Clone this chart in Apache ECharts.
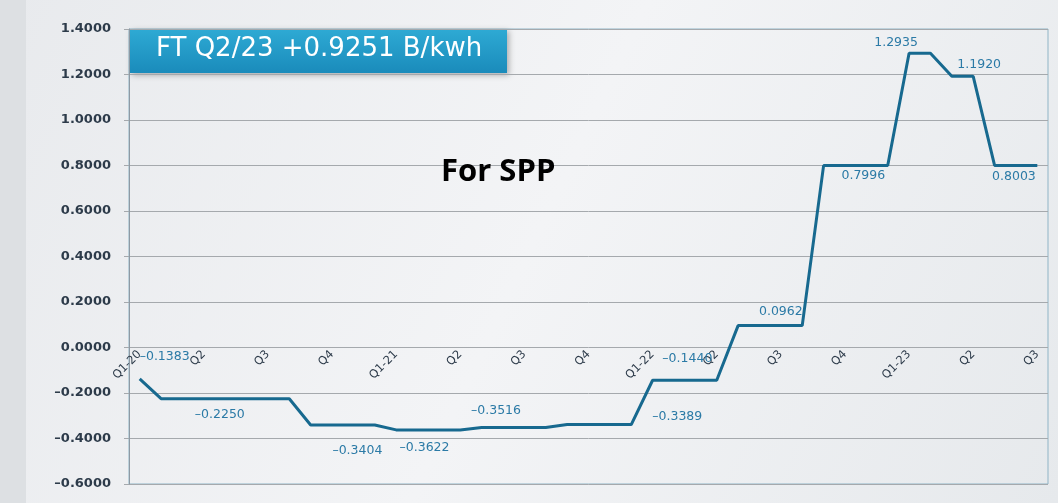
<!DOCTYPE html>
<html>
<head>
<meta charset="utf-8">
<script src="https://cdn.jsdelivr.net/npm/echarts@6/dist/echarts.min.js"></script>
<style>
  html, body { margin: 0; padding: 0; background: #eef0f2; }
  #main { width: 1058px; height: 503px; }
</style>
</head>
<body>
<div id="main"></div>
<script>
// quarter tick labels (one every 3 months)
const tickLabels = ['Q1-20', 'Q2', 'Q3', 'Q4', 'Q1-21', 'Q2', 'Q3', 'Q4',
  'Q1-22', 'Q2', 'Q3', 'Q4', 'Q1-23', 'Q2', 'Q3'];

// Ft value for SPP, month by month (Jan 2020 .. Jul 2023)
const ftValues = [
  -0.1383,
  -0.2250, -0.2250, -0.2250, -0.2250, -0.2250, -0.2250, -0.2250,
  -0.3404, -0.3404, -0.3404, -0.3404,
  -0.3622, -0.3622, -0.3622, -0.3622,
  -0.3516, -0.3516, -0.3516, -0.3516,
  -0.3389, -0.3389, -0.3389, -0.3389,
  -0.1440, -0.1440, -0.1440, -0.1440,
  0.0962, 0.0962, 0.0962, 0.0962,
  0.7996, 0.7996, 0.7996, 0.7996,
  1.2935, 1.2935,
  1.1920, 1.1920,
  0.8003, 0.8003, 0.8003
];

// which months carry a value label, and where the label sits
const labelSpots = [
  { i: 0, offset: [25, -22] },
  { i: 3, offset: [16, 16] },
  { i: 10, offset: [4, 26] },
  { i: 13, offset: [7, 18] },
  { i: 17, offset: [-7, -17] },
  { i: 23, offset: [46, -8] },
  { i: 26, offset: [-8, -22] },
  { i: 30, offset: [0, -14] },
  { i: 34, offset: [-3, 10] },
  { i: 36, offset: [-13, -10] },
  { i: 39, offset: [6, -12] },
  { i: 41, offset: [-2, 11] }
];

const months = ftValues.map((v, i) => (i % 3 === 0 ? tickLabels[i / 3] : ''));

function fmt(v) {
  if (Math.abs(v) < 1e-9) v = 0;
  return v.toFixed(4).replace('-', '\u2013');
}

const seriesData = ftValues.map((v, i) => {
  const spot = labelSpots.find(s => s.i === i);
  if (!spot) return v;
  return {
    value: v,
    label: { show: true, position: 'inside', offset: spot.offset }
  };
});

var myChart = echarts.init(document.getElementById('main'));
const option = {
  backgroundColor: {
    type: 'linear', x: 0, y: 0, x2: 1, y2: 1,
    colorStops: [
      { offset: 0, color: '#e8eaed' },
      { offset: 0.5, color: '#f3f4f6' },
      { offset: 1, color: '#e6e9ec' }
    ]
  },
  animation: false,
  grid: {
    left: 129,
    top: 29,
    width: 919,
    bottom: 19,
    show: true,
    borderColor: '#8fb4c6',
    borderWidth: 1
  },
  graphic: [
    {
      type: 'rect',
      left: 0, top: 0,
      shape: { width: 26, height: 503 },
      style: { fill: '#dde0e3' },
      z: -10
    },
    {
      type: 'group',
      left: 130, top: 29,
      children: [
        {
          type: 'rect',
          shape: { width: 377, height: 44 },
          style: {
            fill: {
              type: 'linear', x: 0, y: 0, x2: 0, y2: 1,
              colorStops: [
                { offset: 0, color: '#2eaad4' },
                { offset: 1, color: '#1a8bbb' }
              ]
            },
            shadowBlur: 6,
            shadowOffsetX: 2,
            shadowOffsetY: 2,
            shadowColor: 'rgba(0,0,0,0.3)'
          }
        },
        {
          type: 'text',
          left: 26, top: 7,
          style: {
            text: 'FT Q2/23 +0.9251 B/kwh',
            fill: '#ffffff',
            font: '26px "DejaVu Sans"'
          }
        }
      ],
      z: 10
    },
    {
      type: 'text',
      left: 441, top: 157,
      style: {
        text: 'For SPP',
        fill: '#000000',
        font: 'bold 31px "Open Sans"'
      },
      z: 10
    }
  ],
  xAxis: {
    type: 'category',
    data: months,
    boundaryGap: true,
    offset: -136.5,
    axisLine: { show: false, onZero: false },
    axisTick: { show: false },
    axisLabel: {
      interval: 2,
      rotate: 45,
      margin: 5,
      color: '#2d3b4a',
      fontSize: 11.5,
      fontFamily: 'DejaVu Sans'
    },
    splitLine: { show: false }
  },
  yAxis: {
    type: 'value',
    min: -0.6,
    max: 1.4,
    interval: 0.2,
    axisLine: { show: true, lineStyle: { color: '#8e9aa4' } },
    axisTick: { show: true, length: 5, lineStyle: { color: '#a5a9ad' } },
    axisLabel: {
      margin: 18,
      color: '#2d3b4a',
      fontSize: 13,
      fontWeight: 'bold',
      fontFamily: 'DejaVu Sans',
      formatter: fmt
    },
    splitLine: { lineStyle: { color: '#a5a9ad', width: 1 } }
  },
  series: [
    {
      type: 'line',
      data: seriesData,
      symbol: 'circle',
      symbolSize: 0,
      showSymbol: true,
      lineStyle: { color: '#17698f', width: 3 },
      itemStyle: { color: '#17698f' },
      label: {
        show: false,
        color: '#2b7aa6',
        fontSize: 12.5,
        fontFamily: 'DejaVu Sans',
        formatter: p => fmt(p.value)
      },
      z: 5
    }
  ]
};
myChart.setOption(option);
</script>
</body>
</html>
